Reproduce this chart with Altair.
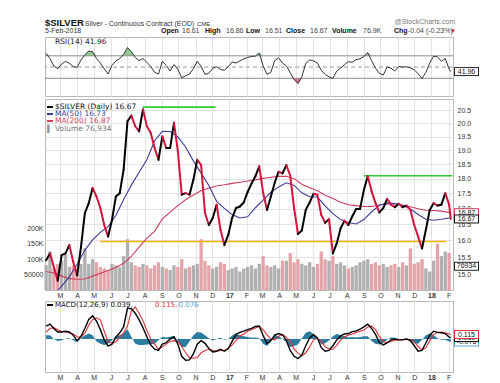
import altair as alt
import pandas as pd
import numpy as np

FONT = "Liberation Sans"
LEG = "DejaVu Sans"

# ---------------- values (weekly samples + last session) ----------------
dates = list(pd.date_range("2016-02-05", periods=105, freq="7D").strftime("%Y-%m-%d")) + ["2018-02-05"]

price = [15.41, 15.61, 15.21, 14.82, 15.56, 15.61, 15.86, 15.36, 14.97, 15.81,
         16.86, 17.18, 17.68, 17.40, 17.02, 16.48, 16.12, 16.64, 17.40, 17.51,
         18.31, 20.08, 20.30, 19.89, 19.70, 20.54, 19.89, 19.64, 19.08, 18.66,
         19.51, 19.08, 19.08, 20.02, 18.96, 17.46, 17.51, 17.46, 17.96, 18.66,
         18.48, 16.86, 16.48, 16.70, 17.13, 16.33, 15.86, 16.17, 16.70, 17.02,
         17.07, 17.20, 17.55, 17.83, 18.08, 18.43, 17.53, 16.96, 17.40, 17.87,
         18.24, 18.18, 18.47, 18.10, 17.02, 16.20, 16.31, 16.96, 17.20, 17.49,
         17.46, 16.80, 16.55, 16.66, 15.61, 15.91, 16.38, 16.61, 16.48, 16.75,
         16.99, 16.99, 17.62, 18.08, 17.57, 17.18, 16.88, 17.02, 17.32, 17.13,
         17.05, 17.16, 17.05, 17.10, 16.96, 16.48, 16.12, 15.76, 16.33, 16.96,
         17.18, 17.10, 17.13, 17.51, 17.13, 16.67]

volume_k = [80, 125, 70, 85, 95, 115, 75, 80, 70, 85,
            135, 85, 100, 90, 75, 70, 65, 85, 80, 75,
            110, 165, 90, 80, 75, 85, 80, 70, 80, 90,
            75, 70, 65, 80, 75, 100, 70, 75, 80, 85,
            165, 95, 80, 70, 75, 90, 85, 65, 70, 75,
            60, 70, 75, 80, 70, 85, 110, 80, 75, 80,
            70, 95, 95, 120, 90, 100, 85, 80, 90, 75,
            85, 125, 100, 95, 110, 85, 90, 80, 70, 75,
            80, 90, 95, 100, 85, 90, 80, 85, 75, 80,
            85, 75, 90, 80, 135, 85, 90, 100, 70, 60,
            95, 150, 110, 125, 120]

ma50 = [14.55, 14.67, 14.93, 15.29, 15.71, 16.02, 16.25, 16.43, 16.78, 17.30,
        17.78, 18.22, 18.66, 19.35, 19.70, 19.69, 19.49, 19.12, 18.62, 18.19,
        17.77, 17.24, 17.01, 16.81, 16.70, 16.74, 17.03, 17.28, 17.54, 17.72,
        17.86, 17.77, 17.52, 17.39, 17.38, 17.09, 16.84, 16.65, 16.56, 16.51,
        16.65, 16.90, 17.11, 17.18, 17.17, 17.11, 16.99, 16.81, 16.66, 16.63,
        16.66, 16.70, 16.73]
ma50_dates = [dates[3]] + dates[4:105:2] + [dates[105]]

ma200 = [15.08, 15.04, 14.95, 14.88, 14.86, 14.87, 14.95, 15.03, 15.11, 15.20,
         15.32, 15.52, 15.80, 16.07, 16.28, 16.67, 16.89, 17.10, 17.29, 17.45,
         17.59, 17.68, 17.75, 17.79, 17.84, 17.88, 17.92, 17.96, 18.01, 18.05,
         18.08, 18.08, 18.00, 17.81, 17.69, 17.59, 17.44, 17.33, 17.21, 17.13,
         17.10, 17.07, 17.07, 17.12, 17.15, 17.16, 17.11, 17.06, 17.00, 16.95,
         16.94, 16.92, 16.88, 16.87]
ma200_dates = dates[0:105:2] + [dates[105]]

rsi = [74.3, 65.2, 52.0, 47.0, 55.4, 60.3, 56.6, 51.1, 49.3, 62.7,
       71.3, 78.6, 77.4, 65.2, 57.2, 46.8, 37.6, 52.9, 60.9, 65.2,
       72.5, 84.7, 77.4, 67.0, 61.5, 65.2, 58.4, 51.1, 40.7, 37.6,
       60.3, 52.9, 43.1, 54.2, 46.2, 30.9, 34.6, 37.6, 46.8, 60.3,
       51.1, 37.0, 38.9, 48.0, 50.5, 45.6, 44.4, 50.5, 59.0, 57.2,
       60.9, 64.6, 67.0, 68.8, 69.4, 74.9, 52.3, 37.0, 40.7, 61.5,
       66.4, 57.2, 52.0, 40.1, 27.9, 20.5, 32.7, 56.6, 62.7, 60.9,
       57.2, 44.4, 37.0, 32.7, 29.7, 43.1, 48.0, 54.2, 59.7, 58.4,
       63.3, 64.6, 68.8, 75.6, 61.5, 48.0, 38.9, 35.8, 49.9, 48.0,
       43.1, 51.1, 49.9, 50.5, 48.6, 45.0, 38.3, 29.7, 40.7, 57.2,
       69.4, 68.2, 60.3, 65.2, 46.2, 41.96]

macd = [0.33, 0.38, 0.27, 0.18, 0.18, 0.20, 0.18, 0.10, -0.04, 0.07,
        0.27, 0.50, 0.59, 0.46, 0.24, -0.02, -0.18, -0.13, 0.05, 0.16,
        0.31, 0.79, 0.77, 0.66, 0.49, 0.29, 0.06, -0.15, -0.26, -0.29,
        -0.13, -0.09, 0.00, 0.06, -0.13, -0.44, -0.54, -0.53, -0.38, -0.13,
        -0.04, -0.11, -0.24, -0.33, -0.31, -0.26, -0.31, -0.24, -0.06, 0.12,
        0.17, 0.20, 0.24, 0.27, 0.32, 0.33, 0.09, -0.11, -0.04, 0.10,
        0.14, 0.11, -0.04, -0.29, -0.44, -0.50, -0.41, -0.17, 0.03, 0.11,
        0.03, -0.22, -0.31, -0.29, -0.17, -0.02, 0.08, 0.13, 0.14, 0.19,
        0.21, 0.25, 0.31, 0.38, 0.27, 0.12, -0.09, -0.15, -0.10, -0.02,
        0.00, -0.02, -0.02, 0.00, -0.04, -0.17, -0.31, -0.29, -0.10, 0.10,
        0.20, 0.17, 0.16, 0.14, 0.05, 0.039]

signal = [0.18, 0.27, 0.29, 0.24, 0.20, 0.18, 0.16, 0.13, 0.06, 0.05,
          0.15, 0.35, 0.50, 0.54, 0.49, 0.20, -0.06, -0.11, -0.07, 0.05,
          0.15, 0.33, 0.71, 0.82, 0.66, 0.47, 0.22, 0.00, -0.13, -0.26,
          -0.20, -0.13, -0.06, -0.04, -0.06, -0.19, -0.35, -0.48, -0.49, -0.47,
          -0.35, -0.29, -0.26, -0.29, -0.31, -0.29, -0.29, -0.24, -0.15, -0.04,
          0.08, 0.13, 0.20, 0.24, 0.28, 0.32, 0.24, 0.11, 0.00, -0.02,
          0.07, 0.11, 0.05, -0.06, -0.26, -0.36, -0.43, -0.35, -0.20, -0.02,
          0.02, -0.06, -0.20, -0.25, -0.26, -0.16, -0.02, 0.05, 0.10, 0.13,
          0.17, 0.20, 0.23, 0.31, 0.33, 0.24, 0.06, -0.06, -0.09, -0.06,
          -0.03, -0.02, -0.01, 0.00, -0.02, -0.06, -0.19, -0.28, -0.22, -0.04,
          0.12, 0.17, 0.18, 0.16, 0.13, 0.115]

hist = [0.10, 0.10, 0.00, -0.05, -0.03, 0.01, 0.02, -0.03, -0.08, 0.02,
        0.10, 0.14, 0.10, -0.06, -0.12, -0.15, -0.12, -0.03, 0.08, 0.10,
        0.15, 0.25, 0.06, -0.12, -0.15, -0.15, -0.14, -0.13, -0.12, -0.03,
        0.06, 0.04, 0.06, 0.08, -0.06, -0.20, -0.20, -0.06, 0.10, 0.18,
        0.17, 0.10, 0.02, -0.04, 0.00, 0.03, -0.02, 0.00, 0.09, 0.14,
        0.10, 0.07, 0.05, 0.03, 0.04, 0.02, -0.12, -0.18, -0.06, 0.11,
        0.07, 0.00, -0.08, -0.20, -0.18, -0.14, 0.02, 0.16, 0.20, 0.13,
        0.01, -0.14, -0.11, -0.04, 0.07, 0.13, 0.10, 0.08, 0.04, 0.05,
        0.04, 0.05, 0.07, 0.07, -0.05, -0.12, -0.14, -0.10, -0.01, 0.04,
        0.03, 0.00, -0.01, 0.00, -0.02, -0.11, -0.12, -0.02, 0.10, 0.14,
        0.10, 0.02, -0.02, -0.02, -0.06, -0.076]

# drawn support / resistance levels
res_start = ["2016-07-29", "2017-09-01"]
res_end = ["2016-12-07", "2018-02-08"]
res_level = [20.63, 18.10]
sup_start = ["2016-05-13"]
sup_end = ["2018-01-28"]
sup_level = [15.97]

assert len(price) == 106 and len(rsi) == 106 and len(macd) == 106
assert len(signal) == 106 and len(hist) == 106 and len(volume_k) == 105
assert len(ma50) == len(ma50_dates) and len(ma200) == len(ma200_dates)

# ---------------- tables ----------------
seg = pd.DataFrame({"date": dates[:-1], "date2": dates[1:], "p": price[:-1], "p2": price[1:]})
seg["dir"] = np.where(seg["p2"] >= seg["p"], "up", "down")

vol = pd.DataFrame({"date": dates[:105], "vk": volume_k})
vol["dir"] = ["up"] + ["up" if price[i] >= price[i - 1] else "down" for i in range(1, 105)]

m50 = pd.DataFrame({"date": ma50_dates, "ma": ma50})
m200 = pd.DataFrame({"date": ma200_dates, "ma": ma200})
res = pd.DataFrame({"s": res_start, "e": res_end, "lvl": res_level})
sup = pd.DataFrame({"s": sup_start, "e": sup_end, "lvl": sup_level})

rsi_df = pd.DataFrame({"date": dates, "rsi": rsi})
rsi_df["over"] = np.maximum(rsi_df["rsi"], 70)
rsi_df["b70"] = 70
rsi_df["under"] = np.minimum(rsi_df["rsi"], 30)
rsi_df["b30"] = 30

macd_df = pd.DataFrame({"date": dates, "macd": macd, "sig": signal, "hist": hist})
macd_df["zero"] = 0.0

one = pd.DataFrame({"k": [0]})
W = 408

# ---------------- helpers ----------------
XS = alt.Scale(domain=["2016-02-03", "2018-02-09"], padding=0)
LBL = ("month(datum.value) == 0 ? timeFormat(datum.value, '%y') : "
       "substring(timeFormat(datum.value, '%b'), 0, 1)")


def xaxis(labels):
    if labels:
        return alt.Axis(tickCount=alt.TimeIntervalStep(interval="month", step=1), labels=True,
                        labelExpr=LBL, grid=True, ticks=False, tickSize=0, domain=False, title=None,
                        labelPadding=1, labelFontSize=7, labelOverlap=False, labelFlush=False,
                        labelFontWeight={"condition": {"test": "month(datum.value) == 0", "value": "bold"},
                                         "value": "normal"})
    return alt.Axis(tickCount=alt.TimeIntervalStep(interval="month", step=1), labels=False,
                    grid=True, ticks=False, tickSize=0, domain=False, title=None,
                    labelPadding=0, minExtent=0, maxExtent=0)


def X(labels, field="date"):
    return alt.X(f"{field}:T", scale=XS, axis=xaxis(labels))


def txt(s, x, y, size=7, weight="normal", color="#333", font=FONT, align="left", baseline="alphabetic"):
    return alt.Chart(one).mark_text(text=s, fontSize=size, fontWeight=weight, color=color, font=font,
                                    align=align, baseline=baseline).encode(x=alt.value(x), y=alt.value(y))


def vbox(v, label, color, scale):
    d = pd.DataFrame({"yv": [v]})
    y = alt.Y("yv:Q", scale=scale, axis=None)
    outer = alt.Chart(d).mark_rule(color=color, strokeWidth=9).encode(
        x=alt.value(409), x2=alt.value(434), y=y)
    inner = alt.Chart(d).mark_rule(color="white", strokeWidth=7).encode(
        x=alt.value(410), x2=alt.value(433), y=y)
    t = alt.Chart(d).mark_text(text=label, font=FONT, fontSize=7, color="#111", align="center",
                               baseline="middle").encode(x=alt.value(421.5), y=y)
    return [outer, inner, t]


def dash(x, y, color):
    return alt.Chart(one).mark_rule(color=color, strokeWidth=2).encode(
        x=alt.value(x), x2=alt.value(x + 6), y=alt.value(y))


def yaxis(values, fmt):
    return alt.Axis(orient="right", values=values, format=fmt, grid=True, ticks=False, tickSize=0,
                    domain=False, labelPadding=4, title=None, labelFontSize=7)


# ---------------- header ----------------
hdr = [
    txt("$SILVER", 0, 17, size=9.5, weight="bold", color="#111"),
    txt("Silver - Continuous Contract (EOD)", 40, 17, size=7),
    txt("CME", 152, 17, size=6),
    txt("@StockCharts.com", 410, 15, size=7, color="#777", align="right"),
    txt("5-Feb-2018", 0, 24, size=7),
]
for s, x, b in [("Open", 116, True), ("16.61", 137, False), ("High", 160, True), ("16.86", 181, False),
                ("Low", 201, True), ("16.51", 220, False), ("Close", 241, True), ("16.67", 265, False),
                ("Volume", 287, True), ("76.9K", 318, False), ("Chg", 349, True),
                ("-0.04 (-0.23%)", 363, False)]:
    hdr.append(txt(s, x, 24, size=7, weight="bold" if b else "normal", color="#111" if b else "#444"))
hdr.append(txt("\u25bc", 405, 24, size=6, color="#c0143c"))
header = alt.layer(*hdr).properties(width=W, height=25, view=alt.ViewBackground(stroke="transparent"))

# ---------------- RSI panel ----------------
RY = alt.Scale(domain=[-1.5, 103.5], nice=False)
ry_axis = yaxis([10, 30, 50, 70, 90], "d")
rsi_layers = [
    alt.Chart(rsi_df).mark_area(color="#93c793").encode(
        x=X(False), y=alt.Y("over:Q", scale=RY, axis=ry_axis), y2="b70:Q"),
    alt.Chart(rsi_df).mark_area(color="#d77a8a").encode(
        x=X(False), y=alt.Y("under:Q", scale=RY, axis=ry_axis), y2="b30:Q"),
    alt.Chart(one).mark_rule(color="#8a8a8a", strokeWidth=1).encode(y=alt.datum(70)),
    alt.Chart(one).mark_rule(color="#8a8a8a", strokeWidth=1).encode(y=alt.datum(30)),
    alt.Chart(one).mark_rule(color="#9a9a9a", strokeWidth=1, strokeDash=[4, 3]).encode(y=alt.datum(50)),
    alt.Chart(rsi_df).mark_line(color="#333333", strokeWidth=1).encode(
        x=X(False), y=alt.Y("rsi:Q", scale=RY, axis=ry_axis)),
    txt("RSI(14) 41.96", 10, 6.5, size=7.5, font=LEG, color="#222"),
] + vbox(41.96, "41.96", "#222", RY)
rsi_panel = alt.layer(*rsi_layers).properties(width=W, height=59)

# ---------------- price panel (flat layer, independent y per layer) ----------------
PY = alt.Scale(type="log", domain=[14.56, 20.95], nice=False)
py_axis = yaxis([15.0, 15.5, 16.0, 16.5, 17.0, 17.5, 18.0, 18.5, 19.0, 19.5, 20.0, 20.5], ".1f")
VY = alt.Scale(domain=[0, 620], nice=False)
vy_axis = alt.Axis(orient="left", values=[50, 100, 150, 200], grid=False, ticks=False, tickSize=0, domain=False,
                   labelPadding=2, title=None, labelFontSize=7,
                   labelExpr="datum.value >= 100 ? datum.value + 'K' : format(datum.value * 1000, 'd')")

price_layers = [
    alt.Chart(vol).mark_bar(width=3.3).encode(
        x=X(True), y=alt.Y("vk:Q", scale=VY, axis=vy_axis),
        color=alt.Color("dir:N", scale=alt.Scale(domain=["up", "down"], range=["#b0b0b0", "#e4a3a8"]),
                        legend=None)),
    *vbox(76.934, "76934", "#222", VY),
    alt.Chart(sup).mark_rule(color="#f2b300", strokeWidth=1.6).encode(
        x=alt.X("s:T", scale=XS, axis=xaxis(True)), x2="e:T", y=alt.Y("lvl:Q", scale=PY, axis=py_axis)),
    alt.Chart(res).mark_rule(color="#2ecc2e", strokeWidth=1.6).encode(
        x=alt.X("s:T", scale=XS, axis=xaxis(True)), x2="e:T", y=alt.Y("lvl:Q", scale=PY, axis=None)),
    alt.Chart(m200).mark_line(color="#cf3d5c", strokeWidth=1.1, clip=True).encode(
        x=X(True), y=alt.Y("ma:Q", scale=PY, axis=None)),
    alt.Chart(m50).mark_line(color="#3c3c9c", strokeWidth=1.1, clip=True).encode(
        x=X(True), y=alt.Y("ma:Q", scale=PY, axis=None)),
    alt.Chart(seg).mark_rule(strokeWidth=2, strokeCap="round").encode(
        x=X(True), x2="date2:T", y=alt.Y("p:Q", scale=PY, axis=None), y2="p2:Q",
        color=alt.Color("dir:N", scale=alt.Scale(domain=["up", "down"], range=["#000000", "#d3143c"]),
                        legend=None)),
    dash(2, 8, "#000"), txt("$SILVER (Daily) 16.67", 10, 8, size=7.5, font=LEG, color="#111", baseline="middle"),
    dash(2, 15, "#3c3c9c"), txt("MA(50) 16.73", 10, 15, size=7.5, font=LEG, color="#3c3c9c", baseline="middle"),
    dash(2, 22, "#cf3d5c"), txt("MA(200) 16.87", 10, 22, size=7.5, font=LEG, color="#cf3d5c", baseline="middle"),
    txt("\u258c", 2, 29.5, size=7, color="#999", baseline="middle"),
    txt("Volume 76,934", 10, 29.5, size=7.5, font=LEG, color="#777", baseline="middle"),
    *vbox(16.73, "16.73", "#3c3c9c", PY),
    *vbox(16.87, "16.87", "#cf3d5c", PY),
    *vbox(16.67, "16.67", "#111", PY),
]
price_panel = alt.layer(*price_layers).resolve_scale(y="independent", color="independent").properties(
    width=W, height=191)

# ---------------- MACD panel ----------------
MY = alt.Scale(domain=[-0.84, 0.97], nice=False)
my_axis = yaxis([-0.5, -0.25, 0, 0.25, 0.5, 0.75], ".2f")
macd_layers = [
    alt.Chart(macd_df).mark_area(color="#2b7c9e").encode(
        x=X(True), y=alt.Y("hist:Q", scale=MY, axis=my_axis), y2="zero:Q"),
    alt.Chart(macd_df).mark_line(color="#e0303a", strokeWidth=1.1).encode(
        x=X(True), y=alt.Y("sig:Q", scale=MY, axis=my_axis)),
    alt.Chart(macd_df).mark_line(color="#000000", strokeWidth=1.4).encode(
        x=X(True), y=alt.Y("macd:Q", scale=MY, axis=my_axis)),
    dash(2, 4, "#000"),
    txt("MACD(12,26,9) 0.039,", 10, 4, size=7, font=LEG, color="#111", baseline="middle"),
    txt("0.115,", 110, 4, size=7, font=LEG, color="#e0303a", baseline="middle"),
    txt("-0.076", 131, 4, size=7, font=LEG, color="#5aa8d8", baseline="middle"),
] + vbox(-0.076, "-0.076", "#5aa8d8", MY) + vbox(0.039, "0.039", "#111", MY) + vbox(0.115, "0.115", "#e0303a", MY)
macd_panel = alt.layer(*macd_layers).properties(width=W, height=71)

chart = alt.vconcat(header, rsi_panel, price_panel, macd_panel, spacing=1).properties(
    padding={"left": 15, "top": 0, "right": 5, "bottom": 5}
).configure_view(stroke="#b8b8b8").configure_axis(
    labelFont=FONT, labelColor="#333", gridColor="#e3e3e3", labelFontSize=7
)

chart.save("out.html", embed_options={"renderer": "svg", "actions": False})
